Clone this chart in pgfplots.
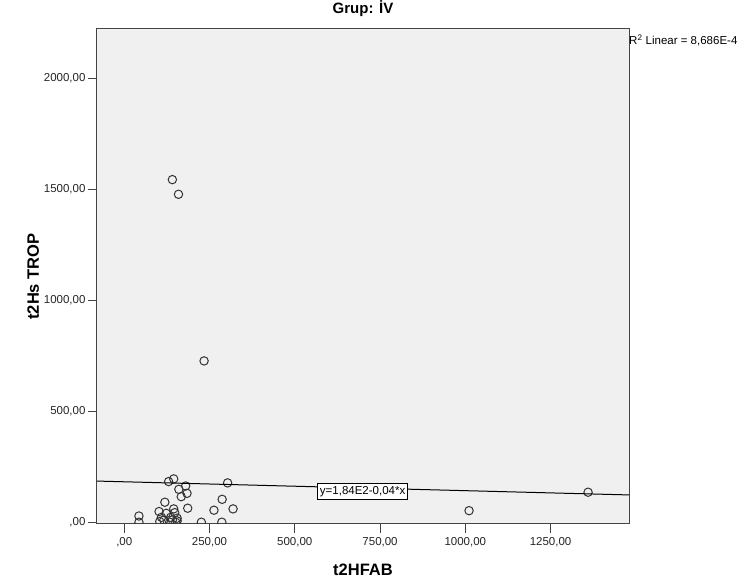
\documentclass[border=0pt]{standalone}
\usepackage{fontspec}
\setmainfont{Liberation Sans}
\usepackage{pgfplots}
\pgfplotsset{compat=1.18}
\definecolor{plotbg}{HTML}{F0F0F0}
\definecolor{axcol}{HTML}{444444}
\definecolor{markcol}{HTML}{333333}

\begin{document}
\begin{tikzpicture}
  \begin{axis}[
      scale only axis, width=532pt, height=495pt,
      xmin=-80, xmax=1480, ymin=-6, ymax=2222,
      axis background/.style={fill=plotbg},
      axis line style={axcol, line width=1pt},
      tick style={axcol, line width=1pt},
      tick align=outside, major tick length=9pt,
      xtick pos=lower, ytick pos=lower,
      xtick={0,250,500,750,1000,1250},
      xticklabels={{,00},{250,00},{500,00},{750,00},{1000,00},{1250,00}},
      ytick={0,500,1000,1500,2000},
      yticklabels={{,00},{500,00},{1000,00},{1500,00},{2000,00}},
      tick label style={font=\fontsize{11.5}{13}\selectfont, text=black!85},
      xticklabel style={yshift=-1pt},
      yticklabel style={xshift=1pt},
      xlabel={t2HFAB}, ylabel={t2Hs TROP},
      xlabel style={font=\fontsize{16.5}{18}\bfseries, at={(axis description cs:0.5,-0.093)}, anchor=center},
      ylabel style={font=\fontsize{16.5}{18}\bfseries, at={(axis description cs:-0.12,0.5)}, anchor=center},
      title={Grup: İV},
      title style={font=\fontsize{15}{17}\bfseries, at={(axis description cs:0.5,1)}, anchor=base, yshift=9pt},
      clip marker paths=true,
    ]
    \addplot[only marks, mark=o, mark size=4.2pt, mark options={draw=markcol, line width=1pt}] coordinates {
      (141,1544) (159,1478) (234,728)
      (43,30) (43,2) (130,185) (145,197) (160,150) (180,165) (167,117)
      (184,132) (119,92) (186,65) (303,179) (287,105) (263,56) (319,62)
      (226,2) (286,2)
      (102,50) (109,24) (123,42) (145,62) (148,45) (136,24) (155,20)
      (155,8) (133,2) (104,5) (116,12) (141,12) (151,2)
      (1011,54) (1360,137)
    };
    % fit line y = 1,84E2 - 0,04*x
    \addplot[black, line width=1pt] coordinates {(-80,187.2) (1480,124.8)};
    \node[draw=black, fill=white, line width=0.8pt, inner sep=2.5pt,
          font=\fontsize{11.5}{13}\selectfont] at (axis cs:699,140) {y=1,84E2-0,04*x};
    \coordinate (sw) at (rel axis cs:0,0);
    \coordinate (ne) at (rel axis cs:1,1);
  \end{axis}
  \node[anchor=base west, inner sep=0pt, font=\fontsize{11.5}{13}\selectfont]
    at ([yshift=-16pt]ne) {R\textsuperscript{2} Linear = 8,686E-4};
  \pgfresetboundingbox
  \path[use as bounding box] ([shift={(-97pt,-61pt)}]sw) rectangle ([shift={(656pt,524pt)}]sw);
\end{tikzpicture}
\end{document}
